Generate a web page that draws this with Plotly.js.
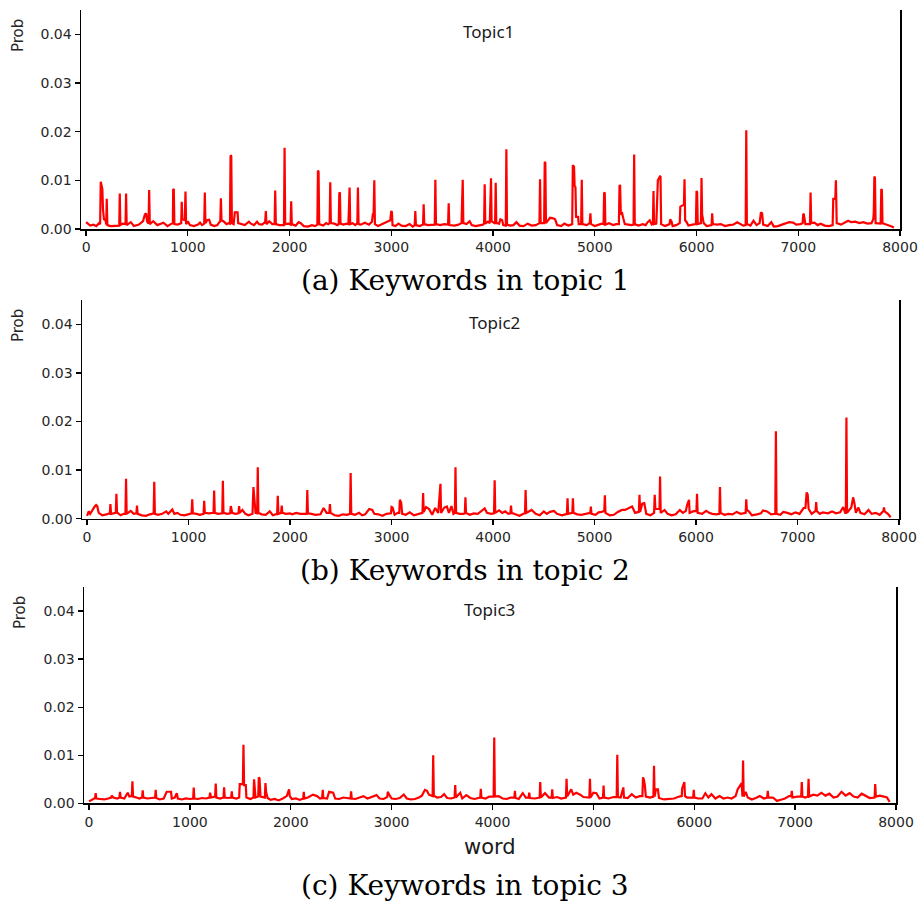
<!DOCTYPE html>
<html>
<head>
<meta charset="utf-8">
<script src="https://cdn.plot.ly/plotly-3.0.1.min.js"></script>
<style>html,body{margin:0;padding:0;background:#fff;}</style>
</head>
<body>
<div id="chart" style="width:922px;height:907px;"></div>
<script>
// ---------- data ----------
const topicNames = ['Topic1', 'Topic2', 'Topic3'];
const captions = ['(a) Keywords in topic 1', '(b) Keywords in topic 2', '(c) Keywords in topic 3'];
const xAxisLabel = 'word';
const yAxisLabel = 'Prob';
const xTicks = [0, 1000, 2000, 3000, 4000, 5000, 6000, 7000, 8000];
const yTicks = [0, 0.01, 0.02, 0.03, 0.04];
const yTickText = ['0.00', '0.01', '0.02', '0.03', '0.04'];

// [word index, probability]
const topic1 = [[0,0.0014],[15,0.0012],[40,0.0007],[70,0.0009],[100,0.0006],[128,0.0012],[138,0.0010],[144,0.0097],[152,0.0090],[160,0.0082],[166,0.0040],[176,0.0020],[192,0.0018],[198,0.0009],[203,0.0062],[209,0.0008],[240,0.0006],[280,0.0007],[320,0.0008],[326,0.0007],[331,0.0073],[337,0.0008],[360,0.0011],[388,0.0010],[393,0.0073],[399,0.0008],[440,0.0014],[470,0.0006],[520,0.0009],[560,0.0016],[578,0.0030],[590,0.0032],[600,0.0015],[614,0.0011],[620,0.0080],[626,0.0010],[660,0.0016],[700,0.0008],[760,0.0013],[800,0.0006],[840,0.0011],[853,0.0012],[856,0.0082],[862,0.0081],[868,0.0010],[900,0.0009],[935,0.0012],[940,0.0056],[946,0.0020],[970,0.0018],[977,0.0077],[983,0.0010],[1000,0.0016],[1020,0.0008],[1060,0.0006],[1100,0.0009],[1120,0.0013],[1140,0.0008],[1161,0.0011],[1167,0.0075],[1173,0.0012],[1190,0.0018],[1210,0.0019],[1225,0.0009],[1260,0.0006],[1290,0.0008],[1310,0.0014],[1319,0.0016],[1325,0.0063],[1331,0.0018],[1350,0.0016],[1380,0.0010],[1400,0.0012],[1414,0.0011],[1420,0.0151],[1427,0.0150],[1433,0.0012],[1450,0.0010],[1462,0.0034],[1489,0.0034],[1495,0.0012],[1520,0.0010],[1560,0.0008],[1600,0.0015],[1620,0.0011],[1650,0.0008],[1680,0.0015],[1700,0.0010],[1730,0.0009],[1760,0.0014],[1767,0.0037],[1773,0.0010],[1800,0.0016],[1830,0.0010],[1853,0.0010],[1859,0.0079],[1865,0.0010],[1900,0.0008],[1930,0.0007],[1945,0.0008],[1951,0.0167],[1957,0.0010],[1990,0.0011],[2010,0.0009],[2016,0.0057],[2022,0.0010],[2060,0.0007],[2090,0.0014],[2110,0.0012],[2140,0.0006],[2180,0.0005],[2220,0.0008],[2250,0.0006],[2273,0.0009],[2279,0.0120],[2285,0.0118],[2291,0.0010],[2330,0.0007],[2360,0.0012],[2380,0.0010],[2394,0.0012],[2400,0.0096],[2406,0.0012],[2440,0.0011],[2470,0.0008],[2483,0.0010],[2489,0.0075],[2495,0.0074],[2501,0.0011],[2530,0.0009],[2560,0.0011],[2578,0.0010],[2584,0.0045],[2590,0.0085],[2596,0.0010],[2620,0.0012],[2645,0.0008],[2666,0.0012],[2672,0.0085],[2678,0.0010],[2700,0.0009],[2740,0.0013],[2780,0.0009],[2810,0.0015],[2820,0.0032],[2826,0.0030],[2833,0.0100],[2839,0.0010],[2870,0.0006],[2900,0.0009],[2930,0.0013],[2960,0.0015],[2990,0.0018],[3000,0.0037],[3006,0.0035],[3012,0.0008],[3040,0.0006],[3070,0.0011],[3100,0.0007],[3140,0.0006],[3180,0.0010],[3210,0.0005],[3230,0.0008],[3236,0.0037],[3242,0.0008],[3280,0.0006],[3312,0.0009],[3318,0.0051],[3324,0.0010],[3360,0.0008],[3400,0.0009],[3427,0.0009],[3433,0.0101],[3439,0.0010],[3480,0.0008],[3520,0.0010],[3558,0.0009],[3564,0.0053],[3570,0.0008],[3620,0.0007],[3660,0.0009],[3690,0.0012],[3696,0.0056],[3702,0.0101],[3708,0.0012],[3740,0.0010],[3770,0.0016],[3790,0.0008],[3830,0.0006],[3870,0.0007],[3900,0.0009],[3912,0.0011],[3918,0.0092],[3924,0.0011],[3950,0.0015],[3968,0.0012],[3974,0.0104],[3980,0.0104],[3986,0.0016],[4010,0.0011],[4020,0.0011],[4026,0.0095],[4032,0.0012],[4060,0.0011],[4072,0.0020],[4090,0.0018],[4100,0.0008],[4125,0.0007],[4131,0.0164],[4137,0.0009],[4170,0.0007],[4200,0.0008],[4230,0.0014],[4260,0.0007],[4300,0.0006],[4340,0.0011],[4380,0.0007],[4420,0.0008],[4450,0.0012],[4456,0.0012],[4462,0.0102],[4468,0.0012],[4502,0.0012],[4508,0.0138],[4514,0.0136],[4520,0.0012],[4560,0.0023],[4590,0.0022],[4610,0.0020],[4630,0.0008],[4670,0.0006],[4700,0.0011],[4740,0.0007],[4778,0.0010],[4784,0.0131],[4796,0.0128],[4802,0.0088],[4810,0.0086],[4816,0.0025],[4836,0.0025],[4842,0.0010],[4866,0.0010],[4872,0.0101],[4878,0.0010],[4920,0.0008],[4950,0.0012],[4957,0.0032],[4963,0.0010],[5000,0.0006],[5040,0.0009],[5070,0.0011],[5086,0.0010],[5092,0.0075],[5098,0.0074],[5104,0.0009],[5140,0.0012],[5180,0.0008],[5210,0.0010],[5237,0.0010],[5243,0.0090],[5249,0.0089],[5256,0.0030],[5269,0.0032],[5280,0.0022],[5295,0.0010],[5330,0.0009],[5360,0.0008],[5381,0.0009],[5387,0.0153],[5393,0.0010],[5430,0.0007],[5470,0.0010],[5500,0.0008],[5520,0.0014],[5540,0.0018],[5560,0.0009],[5571,0.0010],[5577,0.0078],[5583,0.0010],[5605,0.0011],[5614,0.0098],[5620,0.0100],[5640,0.0108],[5646,0.0109],[5652,0.0010],[5690,0.0006],[5735,0.0010],[5741,0.0020],[5755,0.0015],[5765,0.0006],[5800,0.0008],[5835,0.0012],[5841,0.0046],[5852,0.0047],[5876,0.0050],[5882,0.0102],[5888,0.0018],[5900,0.0015],[5920,0.0007],[5960,0.0009],[5994,0.0010],[6000,0.0078],[6006,0.0076],[6012,0.0010],[6043,0.0012],[6049,0.0105],[6055,0.0030],[6070,0.0012],[6100,0.0006],[6148,0.0008],[6154,0.0032],[6160,0.0010],[6200,0.0009],[6240,0.0010],[6280,0.0006],[6320,0.0008],[6360,0.0009],[6400,0.0014],[6430,0.0010],[6460,0.0007],[6483,0.0008],[6489,0.0203],[6495,0.0010],[6530,0.0007],[6560,0.0017],[6590,0.0008],[6620,0.0012],[6633,0.0034],[6645,0.0032],[6655,0.0009],[6700,0.0006],[6735,0.0014],[6760,0.0005],[6800,0.0006],[6840,0.0009],[6880,0.0012],[6910,0.0014],[6950,0.0013],[6980,0.0009],[7020,0.0010],[7043,0.0012],[7049,0.0031],[7055,0.0030],[7070,0.0010],[7100,0.0009],[7115,0.0010],[7121,0.0075],[7127,0.0012],[7160,0.0013],[7190,0.0008],[7220,0.0011],[7260,0.0007],[7300,0.0006],[7338,0.0008],[7344,0.0062],[7364,0.0062],[7370,0.0100],[7378,0.0012],[7420,0.0009],[7460,0.0014],[7490,0.0017],[7520,0.0014],[7560,0.0015],[7600,0.0012],[7640,0.0014],[7680,0.0011],[7720,0.0012],[7737,0.0020],[7742,0.0032],[7748,0.0108],[7754,0.0105],[7760,0.0012],[7800,0.0011],[7810,0.0011],[7816,0.0082],[7822,0.0080],[7828,0.0012],[7860,0.0010],[7890,0.0008],[7920,0.0005],[7940,0.0003]];

const topic2 = [[0,0.0006],[16,0.0015],[30,0.0010],[50,0.0018],[75,0.0025],[89,0.0028],[100,0.0026],[115,0.0012],[150,0.0007],[190,0.0009],[224,0.0011],[230,0.0030],[236,0.0010],[260,0.0011],[283,0.0012],[289,0.0051],[295,0.0013],[330,0.0007],[360,0.0010],[378,0.0010],[384,0.0082],[390,0.0010],[430,0.0016],[460,0.0010],[486,0.0011],[492,0.0027],[498,0.0010],[540,0.0007],[580,0.0006],[620,0.0009],[656,0.0011],[662,0.0076],[668,0.0010],[700,0.0008],[740,0.0010],[780,0.0015],[800,0.0010],[840,0.0019],[860,0.0010],[890,0.0012],[920,0.0008],[960,0.0007],[1000,0.0009],[1030,0.0011],[1036,0.0040],[1042,0.0011],[1080,0.0010],[1110,0.0008],[1148,0.0010],[1154,0.0037],[1160,0.0012],[1200,0.0011],[1246,0.0012],[1252,0.0058],[1258,0.0012],[1290,0.0010],[1332,0.0011],[1338,0.0078],[1344,0.0012],[1380,0.0010],[1410,0.0011],[1416,0.0026],[1430,0.0012],[1460,0.0010],[1492,0.0011],[1498,0.0026],[1504,0.0012],[1530,0.0018],[1560,0.0010],[1590,0.0007],[1630,0.0010],[1639,0.0065],[1660,0.0012],[1676,0.0011],[1682,0.0106],[1688,0.0012],[1720,0.0009],[1760,0.0008],[1800,0.0015],[1830,0.0007],[1873,0.0010],[1879,0.0047],[1885,0.0010],[1912,0.0012],[1918,0.0027],[1924,0.0012],[1960,0.0010],[2000,0.0011],[2020,0.0009],[2060,0.0012],[2100,0.0010],[2164,0.0010],[2170,0.0059],[2176,0.0011],[2210,0.0010],[2250,0.0008],[2300,0.0009],[2330,0.0022],[2360,0.0012],[2387,0.0012],[2393,0.0030],[2399,0.0012],[2440,0.0007],[2480,0.0006],[2520,0.0009],[2560,0.0008],[2591,0.0010],[2597,0.0094],[2603,0.0010],[2640,0.0008],[2680,0.0012],[2710,0.0007],[2740,0.0009],[2780,0.0020],[2810,0.0018],[2830,0.0010],[2870,0.0009],[2910,0.0006],[2950,0.0010],[2994,0.0011],[3000,0.0024],[3010,0.0023],[3030,0.0008],[3060,0.0012],[3076,0.0012],[3082,0.0039],[3095,0.0033],[3105,0.0010],[3140,0.0008],[3180,0.0013],[3220,0.0007],[3260,0.0010],[3290,0.0012],[3305,0.0012],[3311,0.0053],[3317,0.0014],[3340,0.0024],[3370,0.0020],[3400,0.0008],[3430,0.0022],[3460,0.0012],[3472,0.0040],[3482,0.0072],[3488,0.0012],[3520,0.0023],[3545,0.0025],[3565,0.0012],[3590,0.0026],[3610,0.0010],[3624,0.0012],[3630,0.0106],[3636,0.0012],[3670,0.0010],[3710,0.0010],[3722,0.0011],[3728,0.0044],[3734,0.0012],[3770,0.0008],[3810,0.0011],[3850,0.0010],[3890,0.0016],[3918,0.0021],[3940,0.0012],[3980,0.0010],[4010,0.0011],[4016,0.0079],[4022,0.0012],[4060,0.0017],[4090,0.0012],[4120,0.0015],[4150,0.0010],[4171,0.0011],[4177,0.0027],[4183,0.0012],[4220,0.0009],[4260,0.0006],[4300,0.0010],[4315,0.0012],[4321,0.0059],[4327,0.0012],[4380,0.0018],[4420,0.0010],[4460,0.0007],[4500,0.0015],[4530,0.0010],[4560,0.0014],[4600,0.0016],[4630,0.0010],[4680,0.0007],[4728,0.0010],[4734,0.0042],[4740,0.0010],[4781,0.0012],[4787,0.0042],[4793,0.0012],[4830,0.0009],[4870,0.0008],[4920,0.0010],[4958,0.0012],[4964,0.0025],[4970,0.0010],[5010,0.0008],[5040,0.0013],[5070,0.0014],[5096,0.0016],[5102,0.0048],[5108,0.0012],[5150,0.0007],[5190,0.0008],[5230,0.0014],[5270,0.0018],[5300,0.0018],[5340,0.0022],[5370,0.0025],[5400,0.0012],[5437,0.0014],[5443,0.0049],[5449,0.0014],[5470,0.0031],[5490,0.0032],[5510,0.0010],[5550,0.0007],[5587,0.0012],[5593,0.0049],[5600,0.0020],[5640,0.0020],[5646,0.0087],[5652,0.0012],[5690,0.0018],[5720,0.0010],[5760,0.0007],[5800,0.0009],[5840,0.0018],[5870,0.0012],[5900,0.0016],[5912,0.0028],[5931,0.0039],[5937,0.0012],[5970,0.0015],[6004,0.0016],[6010,0.0051],[6016,0.0012],[6060,0.0010],[6100,0.0016],[6130,0.0012],[6160,0.0010],[6200,0.0009],[6230,0.0010],[6236,0.0065],[6242,0.0012],[6280,0.0008],[6320,0.0010],[6360,0.0009],[6400,0.0014],[6440,0.0010],[6489,0.0012],[6495,0.0040],[6501,0.0018],[6520,0.0015],[6550,0.0007],[6600,0.0009],[6640,0.0011],[6660,0.0017],[6700,0.0015],[6740,0.0009],[6781,0.0010],[6787,0.0180],[6793,0.0010],[6830,0.0008],[6860,0.0014],[6900,0.0012],[6940,0.0009],[6980,0.0013],[7020,0.0010],[7060,0.0022],[7078,0.0022],[7090,0.0054],[7100,0.0050],[7110,0.0020],[7140,0.0010],[7178,0.0016],[7184,0.0034],[7190,0.0016],[7220,0.0010],[7250,0.0013],[7300,0.0011],[7340,0.0015],[7380,0.0011],[7420,0.0013],[7450,0.0024],[7470,0.0012],[7476,0.0012],[7482,0.0208],[7488,0.0012],[7530,0.0023],[7548,0.0044],[7560,0.0033],[7575,0.0012],[7600,0.0023],[7620,0.0012],[7660,0.0009],[7700,0.0018],[7730,0.0010],[7770,0.0012],[7810,0.0008],[7846,0.0016],[7852,0.0023],[7858,0.0015],[7890,0.0010],[7918,0.0003]];

const topic3 = [[0,0.0004],[30,0.0008],[60,0.0011],[66,0.0021],[72,0.0010],[110,0.0009],[150,0.0008],[190,0.0010],[220,0.0012],[225,0.0016],[240,0.0012],[280,0.0010],[301,0.0012],[307,0.0024],[313,0.0012],[350,0.0010],[377,0.0018],[383,0.0022],[400,0.0014],[424,0.0015],[430,0.0046],[436,0.0014],[470,0.0012],[500,0.0010],[526,0.0012],[532,0.0027],[538,0.0012],[580,0.0010],[620,0.0011],[655,0.0012],[661,0.0028],[667,0.0011],[700,0.0008],[740,0.0010],[770,0.0024],[813,0.0024],[820,0.0010],[850,0.0012],[870,0.0021],[880,0.0010],[920,0.0008],[960,0.0010],[1000,0.0009],[1032,0.0010],[1038,0.0033],[1044,0.0010],[1080,0.0009],[1120,0.0011],[1160,0.0010],[1194,0.0012],[1200,0.0022],[1210,0.0012],[1250,0.0014],[1256,0.0041],[1262,0.0012],[1300,0.0010],[1333,0.0012],[1339,0.0033],[1345,0.0012],[1380,0.0011],[1409,0.0012],[1415,0.0025],[1421,0.0012],[1460,0.0010],[1488,0.0012],[1494,0.0040],[1525,0.0040],[1531,0.0122],[1537,0.0038],[1554,0.0038],[1560,0.0012],[1600,0.0009],[1630,0.0012],[1636,0.0050],[1650,0.0012],[1677,0.0014],[1683,0.0054],[1690,0.0052],[1700,0.0014],[1743,0.0012],[1749,0.0042],[1755,0.0024],[1770,0.0011],[1800,0.0007],[1840,0.0009],[1880,0.0006],[1920,0.0010],[1960,0.0015],[1983,0.0029],[1990,0.0015],[2010,0.0009],[2050,0.0010],[2090,0.0007],[2123,0.0010],[2129,0.0024],[2135,0.0010],[2170,0.0012],[2220,0.0018],[2260,0.0015],[2290,0.0010],[2311,0.0011],[2317,0.0028],[2323,0.0011],[2360,0.0010],[2380,0.0024],[2420,0.0022],[2440,0.0010],[2480,0.0009],[2520,0.0012],[2560,0.0010],[2592,0.0010],[2598,0.0025],[2604,0.0010],[2640,0.0009],[2680,0.0012],[2720,0.0015],[2760,0.0010],[2800,0.0013],[2850,0.0017],[2880,0.0010],[2920,0.0009],[2956,0.0013],[2962,0.0024],[2975,0.0018],[3000,0.0010],[3040,0.0009],[3080,0.0011],[3120,0.0018],[3150,0.0010],[3190,0.0008],[3230,0.0009],[3270,0.0012],[3300,0.0016],[3330,0.0028],[3350,0.0026],[3370,0.0018],[3406,0.0015],[3412,0.0100],[3418,0.0016],[3450,0.0012],[3490,0.0013],[3520,0.0019],[3550,0.0011],[3590,0.0010],[3624,0.0012],[3630,0.0038],[3636,0.0012],[3680,0.0022],[3700,0.0010],[3740,0.0017],[3780,0.0011],[3820,0.0009],[3860,0.0012],[3878,0.0012],[3884,0.0030],[3890,0.0012],[3930,0.0010],[3970,0.0014],[4011,0.0014],[4017,0.0137],[4023,0.0014],[4060,0.0015],[4100,0.0010],[4140,0.0009],[4180,0.0012],[4216,0.0012],[4222,0.0026],[4228,0.0011],[4260,0.0009],[4300,0.0021],[4330,0.0012],[4358,0.0012],[4364,0.0022],[4370,0.0011],[4420,0.0010],[4467,0.0012],[4473,0.0044],[4479,0.0012],[4520,0.0021],[4560,0.0012],[4586,0.0012],[4592,0.0029],[4598,0.0011],[4640,0.0013],[4680,0.0010],[4728,0.0012],[4734,0.0051],[4740,0.0014],[4780,0.0029],[4800,0.0018],[4830,0.0022],[4870,0.0018],[4900,0.0013],[4940,0.0012],[4960,0.0012],[4966,0.0051],[4972,0.0012],[5000,0.0022],[5030,0.0021],[5060,0.0010],[5095,0.0012],[5101,0.0037],[5107,0.0012],[5150,0.0010],[5200,0.0013],[5231,0.0013],[5237,0.0101],[5243,0.0013],[5270,0.0012],[5297,0.0033],[5303,0.0012],[5340,0.0011],[5380,0.0019],[5420,0.0012],[5460,0.0015],[5486,0.0015],[5492,0.0054],[5500,0.0050],[5510,0.0038],[5520,0.0014],[5560,0.0012],[5595,0.0014],[5601,0.0078],[5607,0.0014],[5620,0.0029],[5640,0.0029],[5650,0.0011],[5700,0.0008],[5750,0.0009],[5800,0.0010],[5850,0.0014],[5876,0.0015],[5880,0.0031],[5902,0.0044],[5908,0.0015],[5930,0.0012],[5989,0.0012],[5995,0.0028],[6001,0.0012],[6040,0.0010],[6080,0.0010],[6110,0.0021],[6140,0.0012],[6170,0.0019],[6210,0.0010],[6250,0.0015],[6290,0.0010],[6330,0.0012],[6370,0.0010],[6410,0.0015],[6430,0.0029],[6470,0.0042],[6478,0.0014],[6484,0.0089],[6490,0.0014],[6510,0.0024],[6530,0.0012],[6570,0.0008],[6610,0.0011],[6650,0.0015],[6690,0.0010],[6723,0.0012],[6729,0.0026],[6735,0.0012],[6780,0.0012],[6820,0.0005],[6850,0.0007],[6900,0.0010],[6940,0.0015],[6961,0.0015],[6967,0.0026],[6973,0.0012],[7020,0.0014],[7060,0.0014],[7066,0.0044],[7072,0.0014],[7100,0.0012],[7127,0.0014],[7133,0.0051],[7139,0.0014],[7180,0.0018],[7220,0.0016],[7260,0.0022],[7300,0.0016],[7340,0.0020],[7380,0.0012],[7420,0.0014],[7460,0.0024],[7500,0.0016],[7540,0.0021],[7580,0.0014],[7620,0.0012],[7660,0.0020],[7700,0.0015],[7740,0.0011],[7788,0.0012],[7794,0.0040],[7800,0.0014],[7840,0.0016],[7880,0.0014],[7910,0.0012],[7937,0.0003]];

const series = [topic1, topic2, topic3];

// ---------- layout (pixel geometry) ----------
const W = 922, H = 907;
const panels = [
  {left: 81, right: 900, top: 10,  bottom: 229,   title: [488, 32],  prob: [18, 36],  caption: [465, 280]},
  {left: 82, right: 899, top: 300, bottom: 518.7, title: [494, 322], prob: [18, 326], caption: [465, 570]},
  {left: 84, right: 896, top: 587, bottom: 803.3, title: [489, 609], prob: [20, 613], caption: [465, 885]}
];
const px = v => v / W;
const py = v => 1 - v / H;

const traces = series.map((s, i) => ({
  type: 'scatter', mode: 'lines',
  x: s.map(p => p[0]), y: s.map(p => p[1]),
  xaxis: i === 0 ? 'x' : 'x' + (i + 1),
  yaxis: i === 0 ? 'y' : 'y' + (i + 1),
  line: {color: '#ff0000', width: 2.2},
  hoverinfo: 'skip', showlegend: false
}));

const tickFont = {family: 'DejaVu Sans, sans-serif', size: 14, color: '#262626'};
const layout = {
  width: W, height: H,
  margin: {l: 0, r: 0, t: 0, b: 0},
  paper_bgcolor: '#ffffff', plot_bgcolor: 'rgba(0,0,0,0)',
  showlegend: false,
  annotations: []
};

panels.forEach((p, i) => {
  const suf = i === 0 ? '' : String(i + 1);
  layout['xaxis' + suf] = {
    domain: [px(p.left), px(p.right)], anchor: 'y' + suf,
    range: [-50, 8000], tickvals: xTicks, ticktext: xTicks.map(String),
    ticks: 'outside', ticklen: 5, tickwidth: 1.3, tickcolor: '#000',
    showline: true, linecolor: '#000', linewidth: 1.5,
    showgrid: false, zeroline: false, tickfont: tickFont, fixedrange: true
  };
  layout['yaxis' + suf] = {
    domain: [py(p.bottom), py(p.top)], anchor: 'x' + suf,
    range: [0, 0.045], tickvals: yTicks, ticktext: yTickText,
    ticks: 'outside', ticklen: 5, tickwidth: 1.3, tickcolor: '#000',
    showline: true, linecolor: '#000', linewidth: 1.5, mirror: true,
    showgrid: false, zeroline: false, tickfont: tickFont, fixedrange: true
  };
  layout.annotations.push({
    xref: 'paper', yref: 'paper', x: px(p.title[0]), y: py(p.title[1]),
    xanchor: 'center', yanchor: 'middle', showarrow: false,
    text: topicNames[i], font: {family: 'Noto Sans, sans-serif', size: 17, color: '#1a1a1a'}
  });
  layout.annotations.push({
    xref: 'paper', yref: 'paper', x: px(p.prob[0]), y: py(p.prob[1]),
    xanchor: 'center', yanchor: 'middle', showarrow: false, textangle: -90,
    text: yAxisLabel, font: {family: 'DejaVu Sans, sans-serif', size: 15, color: '#262626'}
  });
  layout.annotations.push({
    xref: 'paper', yref: 'paper', x: px(p.caption[0]), y: py(p.caption[1]),
    xanchor: 'center', yanchor: 'middle', showarrow: false,
    text: captions[i], font: {family: 'DejaVu Serif, serif', size: 28, color: '#000'}
  });
});
layout.annotations.push({
  xref: 'paper', yref: 'paper', x: px(490), y: py(847),
  xanchor: 'center', yanchor: 'middle', showarrow: false,
  text: xAxisLabel, font: {family: 'DejaVu Sans, sans-serif', size: 21, color: '#1a1a1a'}
});

Plotly.newPlot('chart', traces, layout, {staticPlot: true, displayModeBar: false});
</script>
</body>
</html>
